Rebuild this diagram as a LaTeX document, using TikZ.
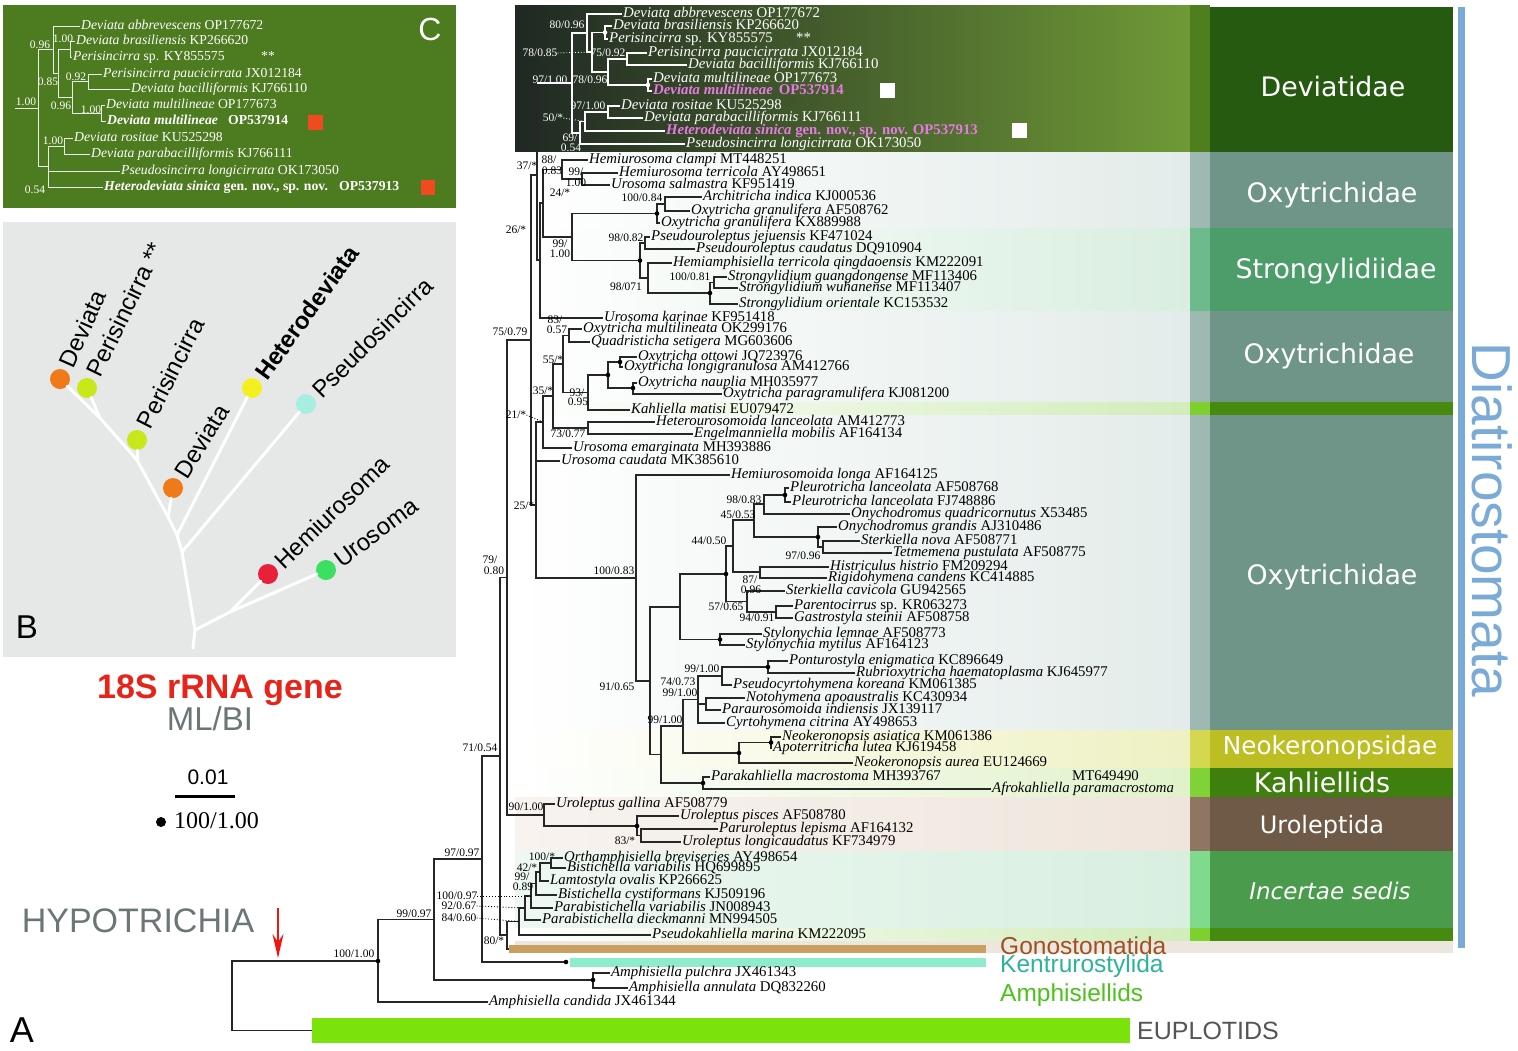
\documentclass[tikz,border=0pt]{standalone}
\usepackage{fontspec}
\setmainfont{Liberation Serif}
\newfontfamily\lsans{Liberation Sans}
\newfontfamily\dvs{DejaVu Sans}
\usetikzlibrary{arrows.meta}
\definecolor{devL}{HTML}{1F2823}
\definecolor{devM}{HTML}{46603A}
\definecolor{devR}{HTML}{6F9A36}
\definecolor{devS}{HTML}{4E7E1E}
\definecolor{devB}{HTML}{255A10}
\definecolor{oxyB}{HTML}{6F9589}
\definecolor{oxyS}{HTML}{9DB9B2}
\definecolor{strB}{HTML}{4C9D69}
\definecolor{strS}{HTML}{6DBA8C}
\definecolor{sepB}{HTML}{468A10}
\definecolor{sepS}{HTML}{7DD02E}
\definecolor{neoB}{HTML}{BDBD24}
\definecolor{neoS}{HTML}{D4D750}
\definecolor{kahB}{HTML}{3F7F0D}
\definecolor{kahS}{HTML}{80D236}
\definecolor{uroB}{HTML}{6E5A47}
\definecolor{uroS}{HTML}{8E7662}
\definecolor{incB}{HTML}{4A9B4C}
\definecolor{incS}{HTML}{80DA8E}
\definecolor{beigeC}{HTML}{EBE7DE}
\definecolor{blueC}{HTML}{7AAAD6}
\definecolor{panC}{HTML}{4D7B1F}
\definecolor{panB}{HTML}{E5E8E7}
\definecolor{cPink}{HTML}{E57BE0}
\definecolor{titleRed}{HTML}{E8231A}
\definecolor{arrowRed}{HTML}{F01414}
\definecolor{grayT}{HTML}{6B7676}
\definecolor{gonoC}{HTML}{C9A060}
\definecolor{kentC}{HTML}{8EECCB}
\definecolor{euplC}{HTML}{7BE30B}
\definecolor{gonoT}{HTML}{A0521E}
\definecolor{kentT}{HTML}{2DB39A}
\definecolor{amphT}{HTML}{4CC21A}
\definecolor{euplT}{HTML}{555555}
\definecolor{sqRed}{HTML}{F04A20}
\definecolor{cOrange}{HTML}{F07A1A}
\definecolor{cLime}{HTML}{C8E81A}
\definecolor{cYellow}{HTML}{F4F020}
\definecolor{cAqua}{HTML}{A8EEE0}
\definecolor{cRed}{HTML}{E8203A}
\definecolor{cGreen}{HTML}{3CE060}
\definecolor{tOxy}{HTML}{E3ECEA}
\definecolor{tStr}{HTML}{D9EEE0}
\definecolor{tSep}{HTML}{D2ECBA}
\definecolor{tNeo}{HTML}{EEF1C2}
\definecolor{tKah}{HTML}{E0F2CA}
\definecolor{tUroL}{HTML}{F8F3EF}
\definecolor{tUro}{HTML}{EFE5DC}
\definecolor{tIncL}{HTML}{EEF8F2}
\definecolor{tInc}{HTML}{D8EFE0}
\newcommand\supl[4]{\node[sup] (#1) at (#2,#3) {#4};}
\newcommand\wsupl[4]{\node[wsup] (#1) at (#2,#3) {#4};}
\newcommand\csupl[4]{\node[csup] (#1) at (#2,#3) {#4};}
\newcommand\tax[4]{\node[tx] (#1) at (#2,#3) {#4};}
\newcommand\wtax[4]{\node[wtx] (#1) at (#2,#3) {#4};}
\newcommand\ctax[4]{\node[ctx] (#1) at (#2,#3) {#4};}
\begin{document}
\begin{tikzpicture}[x=1pt,y=-1pt,
  br/.style={line width=1.1pt, draw=black!85},
  wbr/.style={line width=1.1pt, draw=white},
  cbr/.style={line width=1pt, draw=white!92!black},
  tx/.style={anchor=west, inner xsep=1pt, inner ysep=0pt, font=\fontsize{14.8}{15}\selectfont, text height=9.5pt, text depth=3pt},
  wtx/.style={tx, text=white},
  ctx/.style={anchor=west, inner xsep=1pt, inner ysep=0pt, text=white, font=\fontsize{13.7}{14}\selectfont, text height=9pt, text depth=3pt},
  sup/.style={inner sep=0pt, font=\fontsize{11.5}{12}\selectfont},
  wsup/.style={sup, text=white},
  csup/.style={sup, text=white},
  rlab/.style={text=white, inner sep=0pt},
  btx/.style={inner sep=0pt, anchor=west, font=\lsans\fontsize{24}{24}\selectfont},
  bline/.style={draw=white, line width=3pt, line cap=round},
  dotl/.style={draw=black, dotted, line width=0.9pt},
  circ/.style={circle, minimum size=20pt, inner sep=0pt}
]
\useasboundingbox (0,0) rectangle (1518,1050);
\fill[white] (0,0) rectangle (1518,1050);

% ---------- background bands of the tree ----------
\shade[left color=devL, middle color=devM, right color=devR] (515,5) rectangle (1190,152);
\shade[left color=white, right color=tOxy] (515,152) rectangle (1190,228);
\shade[left color=white, right color=tStr] (515,228) rectangle (1190,311);
\shade[left color=white, right color=tOxy] (515,311) rectangle (1190,402);
\shade[left color=white, right color=tSep] (515,402) rectangle (1190,415);
\shade[left color=white, right color=tOxy] (515,415) rectangle (1190,730);
\shade[left color=white, right color=tNeo] (515,730) rectangle (1190,768);
\shade[left color=white, right color=tKah] (515,768) rectangle (1190,797);
\shade[left color=tUroL, right color=tUro] (515,797) rectangle (1190,851);
\shade[left color=tIncL, right color=tInc] (515,851) rectangle (1190,928);
\shade[left color=white, right color=tSep] (515,928) rectangle (1190,941);
\fill[beigeC] (515,941) rectangle (1453,953);

% ---------- right column ----------
\fill[devS] (1190,5) rectangle (1210,152);  \fill[devB] (1210,7) rectangle (1453,152);
\fill[oxyS] (1190,152) rectangle (1210,228); \fill[oxyB] (1210,152) rectangle (1453,228);
\fill[strS] (1190,228) rectangle (1210,311); \fill[strB] (1210,228) rectangle (1453,311);
\fill[oxyS] (1190,311) rectangle (1210,402); \fill[oxyB] (1210,311) rectangle (1453,402);
\fill[sepS] (1190,402) rectangle (1210,415); \fill[sepB] (1210,402) rectangle (1453,415);
\fill[oxyS] (1190,415) rectangle (1210,730); \fill[oxyB] (1210,415) rectangle (1453,730);
\fill[neoS] (1190,730) rectangle (1210,768); \fill[neoB] (1210,730) rectangle (1453,768);
\fill[kahS] (1190,768) rectangle (1210,797); \fill[kahB] (1210,768) rectangle (1453,797);
\fill[uroS] (1190,797) rectangle (1210,851); \fill[uroB] (1210,797) rectangle (1453,851);
\fill[incS] (1190,851) rectangle (1210,928); \fill[incB] (1210,851) rectangle (1453,928);
\fill[sepS] (1190,928) rectangle (1210,941); \fill[sepB] (1210,928) rectangle (1453,941);
\fill[blueC] (1458,7) rectangle (1465,948);

\node[rlab, font=\dvs\fontsize{26.8}{27}\selectfont] (rDev) at (1333,87) {Deviatidae};
\node[rlab, font=\dvs\fontsize{26.8}{27}\selectfont] (rOx1) at (1332,195) {Oxytrichidae};
\node[rlab, font=\dvs\fontsize{26.8}{27}\selectfont] (rStr) at (1336,271) {Strongylidiidae};
\node[rlab, font=\dvs\fontsize{26.8}{27}\selectfont] (rOx2) at (1329,356) {Oxytrichidae};
\node[rlab, font=\dvs\fontsize{26.8}{27}\selectfont] (rOx3) at (1332,577) {Oxytrichidae};
\node[rlab, font=\dvs\fontsize{24.7}{25}\selectfont] (rNeo) at (1330,748) {Neokeronopsidae};
\node[rlab, font=\dvs\fontsize{27}{27}\selectfont] (rKah) at (1322,782) {Kahliellids};
\node[rlab, font=\dvs\fontsize{24}{24}\selectfont] (rUro) at (1322,827) {Uroleptida};
\node[rlab, font=\dvs\itshape\fontsize{23}{23}\selectfont] (rInc) at (1330,891) {Incertae sedis};
\node[text=blueC, inner sep=0pt, rotate=-90, font=\lsans\fontsize{55}{55}\selectfont] (rDia) at (1492,520) {Diatirostomata};

% ---------- bars ----------
\node[fill=gonoC, inner sep=0pt, minimum width=477pt, minimum height=8pt, anchor=west] (Gono) at (509,949) {};
\node[fill=kentC, inner sep=0pt, minimum width=416pt, minimum height=9pt, anchor=west] (Kent) at (570,962.5) {};
\node[fill=euplC, inner sep=0pt, minimum width=818pt, minimum height=25pt, anchor=west] (Eupl) at (312,1030.5) {};
\node[anchor=west, inner sep=0pt, text=gonoT, font=\lsans\fontsize{24.5}{25}\selectfont] (tGono) at (1000,946) {Gonostomatida};
\node[anchor=west, inner sep=0pt, text=kentT, font=\lsans\fontsize{24.5}{25}\selectfont] (tKent) at (1000,966) {Kentrurostylida};
\node[anchor=west, inner sep=0pt, text=amphT, font=\lsans\fontsize{24.5}{25}\selectfont] (tAmph) at (1000,995) {Amphisiellids};
\node[anchor=west, inner sep=0pt, text=euplT, font=\lsans\fontsize{25}{25}\selectfont] (tEupl) at (1137,1031) {EUPLOTIDS};

% ---------- Deviatidae (white) ----------
\coordinate (D) at (572,83);
\coordinate (D80) at (587,33);
\coordinate (D78a) at (592,52);
\coordinate (Dbp) at (605,32.5);
\coordinate (D78b) at (608,72);
\coordinate (D75) at (627,59);
\coordinate (Dmm) at (648,85);
\coordinate (D69) at (580,133);
\coordinate (D50) at (585,121.5);
\coordinate (D97r) at (608,112);
\wtax{dA}{622}{14}{\textit{Deviata abbrevescens} OP177672}
\wtax{dB}{612}{26}{\textit{Deviata brasiliensis} KP266620}
\wtax{dP}{608}{39}{\textit{Perisincirra} sp. KY855575}
\wtax{dStar}{795}{39}{**}
\wtax{dPa}{647}{53}{\textit{Perisincirra paucicirrata} JX012184}
\wtax{dBa}{687}{65}{\textit{Deviata bacilliformis} KJ766110}
\wtax{dM1}{652}{79}{\textit{Deviata multilineae} OP177673}
\node[wtx, text=cPink, font=\bfseries\fontsize{14.8}{15}\selectfont] (dM2) at (652,91) {\textit{Deviata multilineae}\hspace{6pt}OP537914};
\wtax{dR}{620}{106}{\textit{Deviata rositae} KU525298}
\wtax{dPb}{643}{118}{\textit{Deviata parabacilliformis} KJ766111}
\node[wtx, text=cPink, font=\bfseries\fontsize{14.8}{15}\selectfont] (dH) at (665,131) {\textit{Heterodeviata sinica} gen. nov., sp. nov. OP537913};
\wtax{dPs}{685}{144}{\textit{Pseudosincirra longicirrata} OK173050}
\fill[white] (880,83) rectangle (895,98);
\fill[white] (1012,123) rectangle (1027,138);
\foreach \p/\c in {D/D80, D/D69, D80/dA.west, D80/D78a, D78a/Dbp, D78a/D78b, Dbp/dB.west, Dbp/dP.west,
  D78b/D75, D78b/Dmm, D75/dPa.west, D75/dBa.west, Dmm/dM1.west, Dmm/dM2.west,
  D69/D50, D69/dPs.west, D50/D97r, D50/dH.west, D97r/dR.west, D97r/dPb.west}
  \draw[wbr] (\p) |- (\c);
\foreach \n in {Dbp, Dmm} \fill[white] (\n) circle (2.3pt);
\wsupl{w1}{567}{25}{80/0.96}
\wsupl{w2}{540}{53}{78/0.85}
\wsupl{w3}{608}{53}{75/0.92}
\wsupl{w4}{590}{80}{78/0.96}
\wsupl{w5}{550}{80}{97/1.00}
\wsupl{w6}{588}{106}{97/1.00}
\wsupl{w7}{553}{118}{50/*}
\wsupl{w8}{570}{138}{69/}
\wsupl{w9}{571}{148}{0.54}
\draw[white, dotted, line width=0.9pt] (w2.east) -- (D78a);
\draw[white, dotted, line width=0.9pt] (w7.east) -- (D50);

% ---------- main tree internal nodes ----------
\coordinate (N37) at (537,175);
\coordinate (N26) at (540,260);
\coordinate (N24) at (543,203);
\coordinate (N88) at (562,169.5);
\coordinate (N99h) at (582,179);
\coordinate (N99a) at (572,237);
\coordinate (Nd1) at (657,213.5);
\coordinate (N100a) at (665,204);
\coordinate (Nd2) at (640,260.5);
\coordinate (N98a) at (645,243);
\coordinate (N98b) at (648,278);
\coordinate (N100s) at (710,293);
\coordinate (Ngw) at (714,282.5);
\coordinate (N75) at (531,340);
\coordinate (N25) at (536,505);
\coordinate (N21) at (543,422);
\coordinate (N35) at (553,396);
\coordinate (N55) at (563,364);
\coordinate (N83b) at (569,335.5);
\coordinate (N93) at (588,392.5);
\coordinate (Not) at (608,375);
\coordinate (Nol) at (620,362);
\coordinate (Nnp) at (633,388);
\coordinate (N73) at (588,428);
\coordinate (N100c) at (636,578);
\coordinate (N91) at (650,681);
\coordinate (Nst) at (680,607);
\coordinate (Nd3) at (726,574);
\coordinate (N44) at (733,546);
\coordinate (N45) at (754,520);
\coordinate (N98c) at (764,504);
\coordinate (Npl) at (785,495);
\coordinate (Nog) at (818,537);
\coordinate (N97s) at (823,547);
\coordinate (N87) at (760,572);
\coordinate (N57) at (747,601.5);
\coordinate (N94) at (776,612);
\coordinate (Nsty) at (720,639.5);
\coordinate (Nx) at (661,754.5);
\coordinate (N99z) at (683,726);
\coordinate (N74) at (698,699.5);
\coordinate (N99k) at (722,676);
\coordinate (Npont) at (768,667);
\coordinate (N99n) at (706,704);
\coordinate (Nnk) at (739,753);
\coordinate (Nna) at (771,742.5);
\coordinate (Nkh) at (703,783);
\coordinate (N79) at (507,577.5);
\coordinate (N90) at (544,815);
\coordinate (N83) at (637,826);
\coordinate (Nll) at (641,835.5);
\coordinate (N71) at (500,756);
\coordinate (N80) at (507,935);
\coordinate (N84) at (519,921.5);
\coordinate (N92) at (525,908);
\coordinate (N100b) at (531,896);
\coordinate (N99b) at (536,883.5);
\coordinate (N42) at (540,872);
\coordinate (N100t) at (551,863);
\coordinate (N97) at (482,859);
\coordinate (Kdot) at (566,962);
\coordinate (N99) at (434,919.5);
\coordinate (Namph) at (593,980);
\coordinate (N100r) at (378,961);
\coordinate (Root) at (232,996);

% ---------- main tree taxa ----------
\tax{hC}{588}{160}{\textit{Hemiurosoma clampi} MT448251}
\tax{hT}{618}{173}{\textit{Hemiurosoma terricola} AY498651}
\tax{uS}{610}{185}{\textit{Urosoma salmastra} KF951419}
\tax{aI}{702}{197}{\textit{Architricha indica} KJ000536}
\tax{oG1}{690}{211}{\textit{Oxytricha granulifera} AF508762}
\tax{oG2}{660}{223}{\textit{Oxytricha granulifera} KX889988}
\tax{pJ}{650}{237}{\textit{Pseudouroleptus jejuensis} KF471024}
\tax{pC}{695}{249}{\textit{Pseudouroleptus caudatus} DQ910904}
\tax{hQ}{672}{263}{\textit{Hemiamphisiella terricola qingdaoensis} KM222091}
\tax{sG}{727}{277}{\textit{Strongylidium guangdongense} MF113406}
\tax{sW}{738}{288}{\textit{Strongylidium wuhanense} MF113407}
\tax{sO}{738}{304}{\textit{Strongylidium orientale} KC153532}
\tax{uK}{603}{318}{\textit{Urosoma karinae} KF951418}
\tax{oM}{582}{329}{\textit{Oxytricha multilineata} OK299176}
\tax{qS}{590}{342}{\textit{Quadristicha setigera} MG603606}
\tax{oO}{637}{357}{\textit{Oxytricha ottowi} JQ723976}
\tax{oL}{623}{367}{\textit{Oxytricha longigranulosa} AM412766}
\tax{oN}{637}{383}{\textit{Oxytricha nauplia} MH035977}
\tax{oP}{722}{394}{\textit{Oxytricha paragramulifera} KJ081200}
\tax{kM}{630}{410}{\textit{Kahliella matisi} EU079472}
\tax{hL}{655}{422}{\textit{Heterourosomoida lanceolata} AM412773}
\tax{eM}{693}{434}{\textit{Engelmanniella mobilis} AF164134}
\tax{uE}{572}{448}{\textit{Urosoma emarginata} MH393886}
\tax{uC}{560}{461}{\textit{Urosoma caudata} MK385610}
\tax{hLo}{730}{475}{\textit{Hemiurosomoida longa} AF164125}
\tax{pL1}{789}{488}{\textit{Pleurotricha lanceolata} AF508768}
\tax{pL2}{791}{502}{\textit{Pleurotricha lanceolata} FJ748886}
\tax{oQ}{850}{514}{\textit{Onychodromus quadricornutus} X53485}
\tax{oGr}{837}{527}{\textit{Onychodromus grandis} AJ310486}
\tax{sN}{860}{541}{\textit{Sterkiella nova} AF508771}
\tax{tP}{892}{553}{\textit{Tetmemena pustulata} AF508775}
\tax{hH}{829}{567}{\textit{Histriculus histrio} FM209294}
\tax{rC}{827}{578}{\textit{Rigidohymena candens} KC414885}
\tax{sC}{785}{591}{\textit{Sterkiella cavicola} GU942565}
\tax{pS}{793}{606}{\textit{Parentocirrus} sp. KR063273}
\tax{gS}{793}{618}{\textit{Gastrostyla steinii} AF508758}
\tax{sL}{762}{634}{\textit{Stylonychia lemnae} AF508773}
\tax{sM}{745}{645}{\textit{Stylonychia mytilus} AF164123}
\tax{pE}{788}{661}{\textit{Ponturostyla enigmatica} KC896649}
\tax{rH}{855}{673}{\textit{Rubrioxytricha haematoplasma} KJ645977}
\tax{pK}{732}{685}{\textit{Pseudocyrtohymena koreana} KM061385}
\tax{nA}{745}{698}{\textit{Notohymena apoaustralis} KC430934}
\tax{pI}{721}{710}{\textit{Paraurosomoida indiensis} JX139117}
\tax{cC}{725}{723}{\textit{Cyrtohymena citrina} AY498653}
\tax{nAs}{781}{737}{\textit{Neokeronopsis asiatica} KM061386}
\tax{aL}{772}{748}{\textit{Apoterritricha lutea} KJ619458}
\tax{nAu}{853}{763}{\textit{Neokeronopsis aurea} EU124669}
\tax{pM}{710}{777}{\textit{Parakahliella macrostoma} MH393767}
\tax{mT}{1071}{777}{MT649490}
\tax{aP}{991}{789}{\textit{Afrokahliella paramacrostoma}}
\tax{uG}{555}{804}{\textit{Uroleptus gallina} AF508779}
\tax{uP}{679}{816}{\textit{Uroleptus pisces} AF508780}
\tax{pLe}{718}{829}{\textit{Paruroleptus lepisma} AF164132}
\tax{uL}{681}{842}{\textit{Uroleptus longicaudatus} KF734979}
\tax{oB}{563}{858}{\textit{Orthamphisiella breviseries} AY498654}
\tax{bV}{566}{868}{\textit{Bistichella variabilis} HQ699895}
\tax{lO}{549}{881}{\textit{Lamtostyla ovalis} KP266625}
\tax{bC}{557}{895}{\textit{Bistichella cystiformans} KJ509196}
\tax{pV}{553}{908}{\textit{Parabistichella variabilis} JN008943}
\tax{pD}{541}{920}{\textit{Parabistichella dieckmanni} MN994505}
\tax{pMa}{651}{935}{\textit{Pseudokahliella marina} KM222095}
\tax{aPu}{610}{973}{\textit{Amphisiella pulchra} JX461343}
\tax{aAn}{628}{988}{\textit{Amphisiella annulata} DQ832260}
\tax{aCa}{488}{1002}{\textit{Amphisiella candida} JX461344}

% ---------- main tree connectors ----------
\draw[br] (N37) |- (D);
\draw[wbr] (N37 |- D) -- (D);
\foreach \p/\c in {N37/N26, N26/N24, N26/uK.west, N24/N88, N24/N99a, N88/hC.west, N88/N99h,
  N99h/hT.west, N99h/uS.west, N99a/Nd1, N99a/Nd2, Nd1/N100a, Nd1/oG2.west, N100a/aI.west,
  N100a/oG1.west, Nd2/N98a, Nd2/N98b, N98a/pJ.west, N98a/pC.west, N98b/hQ.west, N98b/N100s,
  N100s/Ngw, N100s/sO.west, Ngw/sG.west, Ngw/sW.west,
  N75/N37, N75/N25, N25/N21, N25/uC.west, N25/N100c, N21/N35, N21/uE.west, N35/N55, N35/N73,
  N55/N83b, N55/N93, N83b/oM.west, N83b/qS.west, N93/Not, N93/kM.west, Not/Nol, Not/Nnp,
  Nol/oO.west, Nol/oL.west, Nnp/oN.west, Nnp/oP.west, N73/hL.west, N73/eM.west,
  N100c/hLo.west, N100c/N91, N91/Nst, N91/Nx, Nst/Nd3, Nst/Nsty, Nd3/N44, Nd3/N57, N44/N45,
  N44/N87, N45/N98c, N45/Nog, N98c/Npl, N98c/oQ.west, Npl/pL1.west, Npl/pL2.west, Nog/oGr.west,
  Nog/N97s, N97s/sN.west, N97s/tP.west, N87/hH.west, N87/rC.west, N57/sC.west, N57/N94,
  N94/pS.west, N94/gS.west, Nsty/sL.west, Nsty/sM.west,
  Nx/N99z, Nx/Nkh, N99z/N74, N99z/Nnk, N74/N99k, N74/N99n, N74/cC.west, N99k/Npont, N99k/pK.west,
  Npont/pE.west, Npont/rH.west, N99n/nA.west, N99n/pI.west, Nnk/Nna, Nnk/nAu.west, Nna/nAs.west,
  Nna/aL.west, Nkh/pM.west, Nkh/aP.west,
  N79/N75, N79/N90, N90/uG.west, N90/N83, N83/uP.west, N83/Nll, Nll/pLe.west, Nll/uL.west,
  N71/N79, N71/N80, N80/N84, N80/Gono.west, N84/N92, N84/pMa.west, N92/N100b, N92/pD.west,
  N100b/N99b, N100b/pV.west, N99b/N42, N99b/bC.west, N42/N100t, N42/lO.west, N100t/oB.west,
  N100t/bV.west,
  N97/N71, N97/Kdot, N99/N97, N99/Namph, Namph/aPu.west, Namph/aAn.west, N100r/N99,
  N100r/aCa.west, Root/N100r, Root/Eupl.west}
  \draw[br] (\p) |- (\c);
\foreach \n in {Nd1, Nd2, N100s, Not, Nol, Nnp, Npl, Nog, Nd3, Nsty, Npont, Nnk, Nna, Nkh, N83,
  N100r, Namph, Kdot}
  \fill[black] (\n) circle (2.3pt);

% ---------- support values ----------
\supl{s01}{527}{166}{37/*}
\supl{s02}{549}{160}{88/}
\supl{s03}{552}{171}{0.83}
\supl{s04}{576}{172}{99/}
\supl{s05}{576}{183}{1.00}
\supl{s06}{560}{193}{24/*}
\supl{s07}{516}{230}{26/*}
\supl{s08}{642}{198}{100/0.84}
\supl{s09}{560}{244}{99/}
\supl{s10}{560}{254}{1.00}
\supl{s11}{626}{238}{98/0.82}
\supl{s12}{690}{277}{100/0.81}
\supl{s13}{626}{287}{98/071}
\supl{s14}{510}{332}{75/0.79}
\supl{s15}{555}{320}{83/}
\supl{s16}{557}{330}{0.57}
\supl{s17}{553}{360}{55/*}
\supl{s18}{577}{393}{93/}
\supl{s19}{578}{402}{0.95}
\supl{s20}{543}{391}{35/*}
\supl{s21}{516}{415}{21/*}
\supl{s22}{568}{434}{73/0.77}
\supl{s23}{524}{506}{25/*}
\supl{s24}{490}{560}{79/}
\supl{s25}{494}{571}{0.80}
\supl{s26}{614}{571}{100/0.83}
\supl{s27}{744}{500}{98/0.83}
\supl{s28}{738}{515}{45/0.53}
\supl{s29}{709}{541}{44/0.50}
\supl{s30}{803}{556}{97/0.96}
\supl{s31}{750}{580}{87/}
\supl{s32}{751}{590}{0.96}
\supl{s33}{726}{607}{57/0.65}
\supl{s34}{757}{618}{94/0.91}
\supl{s35}{617}{687}{91/0.65}
\supl{s36}{702}{669}{99/1.00}
\supl{s37}{678}{682}{74/0.73}
\supl{s38}{680}{693}{99/1.00}
\supl{s39}{665}{720}{99/1.00}
\supl{s40}{480}{748}{71/0.54}
\supl{s41}{526}{807}{90/1.00}
\supl{s42}{625}{841}{83/*}
\supl{s43}{462}{853}{97/0.97}
\supl{s44}{542}{857}{100/*}
\supl{s45}{527}{868}{42/*}
\supl{s46}{522}{877}{99/}
\supl{s47}{523}{887}{0.89}
\supl{s48}{457}{896}{100/0.97}
\supl{s49}{459}{906}{92/0.67}
\supl{s50}{459}{918}{84/0.60}
\supl{s51}{494}{941}{80/*}
\supl{s52}{414}{914}{99/0.97}
\supl{s53}{354}{954}{100/1.00}
\draw[dotl] (s21.east) -- (N21);
\draw[dotl] (s48.east) -- (N100b);
\draw[dotl] (s49.east) -- (N92);
\draw[dotl] (s50.east) -- (N84);

% ---------- left side texts ----------
\node[inner sep=0pt, text=grayT, font=\lsans\fontsize{34}{34}\selectfont] (hyp) at (138,921) {HYPOTRICHIA};
\coordinate (arTop) at (278,908);
\coordinate (arTip) at (278,958);
\draw[arrowRed, line width=1.6pt, -{Stealth[length=24pt, width=11pt, inset=8pt]}] (arTop) -- (arTip);
\node[inner sep=0pt, text=titleRed, font=\lsans\bfseries\fontsize{34}{34}\selectfont] (t18) at (220,690) {18S rRNA gene};
\node[inner sep=0pt, text=grayT, font=\lsans\fontsize{33}{33}\selectfont] (tML) at (210,719) {ML/BI};
\node[inner sep=0pt, font=\lsans\fontsize{21}{21}\selectfont] (t001) at (208,777) {0.01};
\coordinate (sbL) at (175,796);
\coordinate (sbR) at (235,796);
\draw[line width=3pt] (sbL) -- (sbR);
\coordinate (legDot) at (161,822);
\fill (legDot) circle (5pt);
\node[anchor=west, inner sep=0pt, font=\fontsize{24}{24}\selectfont] (tLeg) at (174,821) {100/1.00};
\node[inner sep=0pt, font=\lsans\fontsize{36}{36}\selectfont] (pA) at (22,1030) {A};

% ---------- panel B ----------
\fill[panB] (3,222) rectangle (456,657);
\node[circ, fill=cOrange] (BDev1) at (60,379) {};
\node[circ, fill=cLime] (BPer1) at (87,388) {};
\node[circ, fill=cLime] (BPer2) at (137,440) {};
\node[circ, fill=cOrange] (BDev2) at (173,488) {};
\node[circ, fill=cYellow] (BHet) at (252,388) {};
\node[circ, fill=cAqua] (BPse) at (306,404) {};
\node[circ, fill=cRed] (BHem) at (268,574) {};
\node[circ, fill=cGreen] (BUro) at (326,570) {};
\coordinate (Broot) at (193,648);
\coordinate (Bj1) at (195,630);
\coordinate (Bj2) at (230,612);
\coordinate (Bj3) at (182,552);
\coordinate (Bj4) at (177,535);
\coordinate (Bj5) at (168,517);
\coordinate (Bj6) at (137,460);
\coordinate (Bj7) at (100,418);
\draw[bline] (Broot) -- (Bj1) -- (Bj3) -- (Bj4) -- (Bj5) -- (Bj6) -- (Bj7);
\draw[bline] (Bj1) -- (Bj2);
\draw[bline] (Bj2) -- (BHem);
\draw[bline] (Bj2) -- (BUro);
\draw[bline] (Bj3) -- (BPse);
\draw[bline] (Bj4) -- (BHet);
\draw[bline] (Bj5) -- (BDev2);
\draw[bline] (Bj6) -- (BPer2);
\draw[bline] (Bj7) -- (BDev1);
\draw[bline] (Bj7) -- (BPer1);
\node[btx, rotate=66] (LDev1) at (66,366) {Deviata};
\node[btx, rotate=64] (LPer1) at (93,375) {Perisincirra **};
\node[btx, rotate=63] (LPer2) at (143,427) {Perisincirra};
\node[btx, rotate=58] (LDev2) at (180,476) {Deviata};
\node[btx, rotate=54, font=\lsans\bfseries\fontsize{24}{24}\selectfont] (LHet) at (260,377) {Heterodeviata};
\node[btx, rotate=45] (LPse) at (316,394) {Pseudosincirra};
\node[btx, rotate=44] (LHem) at (278,564) {Hemiurosoma};
\node[btx, rotate=37] (LUro) at (337,562) {Urosoma};
\node[inner sep=0pt, font=\lsans\fontsize{33}{33}\selectfont] (pB) at (27,627) {B};

% ---------- panel C ----------
\fill[panC] (3,5) rectangle (456,208);
\node[inner sep=0pt, text=white, font=\lsans\fontsize{32}{32}\selectfont] (pC) at (430,29) {C};
\coordinate (Cstem) at (15,108);
\coordinate (Croot) at (38,108);
\coordinate (C96a) at (53,49.5);
\coordinate (C85) at (58,73);
\coordinate (Cbp) at (70,49);
\coordinate (C96b) at (72,97);
\coordinate (C92) at (88,81.5);
\coordinate (C100m) at (101,113);
\coordinate (C54) at (48,166);
\coordinate (C100r) at (64,146);
\ctax{cA}{80}{26}{\textit{Deviata abbrevescens} OP177672}
\ctax{cB}{75}{41}{\textit{Deviata brasiliensis} KP266620}
\ctax{cP}{72}{57}{\textit{Perisincirra} sp. KY855575}
\ctax{cStar}{260}{57}{**}
\ctax{cPa}{102}{74}{\textit{Perisincirra paucicirrata} JX012184}
\ctax{cBa}{130}{89}{\textit{Deviata bacilliformis} KJ766110}
\ctax{cM1}{105}{105}{\textit{Deviata multilineae} OP177673}
\ctax{cM2}{106}{121}{\textbf{\textit{Deviata multilineae}}}
\ctax{cM2b}{227}{121}{\textbf{OP537914}}
\ctax{cR}{73}{138}{\textit{Deviata rositae} KU525298}
\ctax{cPb}{90}{154}{\textit{Deviata parabacilliformis} KJ766111}
\ctax{cPs}{120}{171}{\textit{Pseudosincirra longicirrata} OK173050}
\ctax{cH}{103}{187}{\textbf{\textit{Heterodeviata sinica} gen. nov., sp. nov.}}
\ctax{cHb}{338}{187}{\textbf{OP537913}}
\fill[sqRed] (308,115) rectangle (323,130);
\fill[sqRed] (421,180) rectangle (435,195);
\draw[cbr] (Cstem) -- (Croot);
\foreach \p/\c in {Croot/C96a, Croot/C54, C96a/cA.west, C96a/C85, C85/Cbp, C85/C96b, Cbp/cB.west,
  Cbp/cP.west, C96b/C92, C96b/C100m, C92/cPa.west, C92/cBa.west, C100m/cM1.west, C100m/cM2.west,
  C54/C100r, C54/cPs.west, C54/cH.west, C100r/cR.west, C100r/cPb.west}
  \draw[cbr] (\p) |- (\c);
\csupl{c1}{40}{45}{0.96}
\csupl{c2}{63}{39}{1.00}
\csupl{c3}{48}{82}{0.85}
\csupl{c4}{76}{77}{0.92}
\csupl{c5}{61}{106}{0.96}
\csupl{c6}{91}{110}{1.00}
\csupl{c7}{26}{102}{1.00}
\csupl{c8}{53}{141}{1.00}
\csupl{c9}{35}{190}{0.54}
\end{tikzpicture}
\end{document}
